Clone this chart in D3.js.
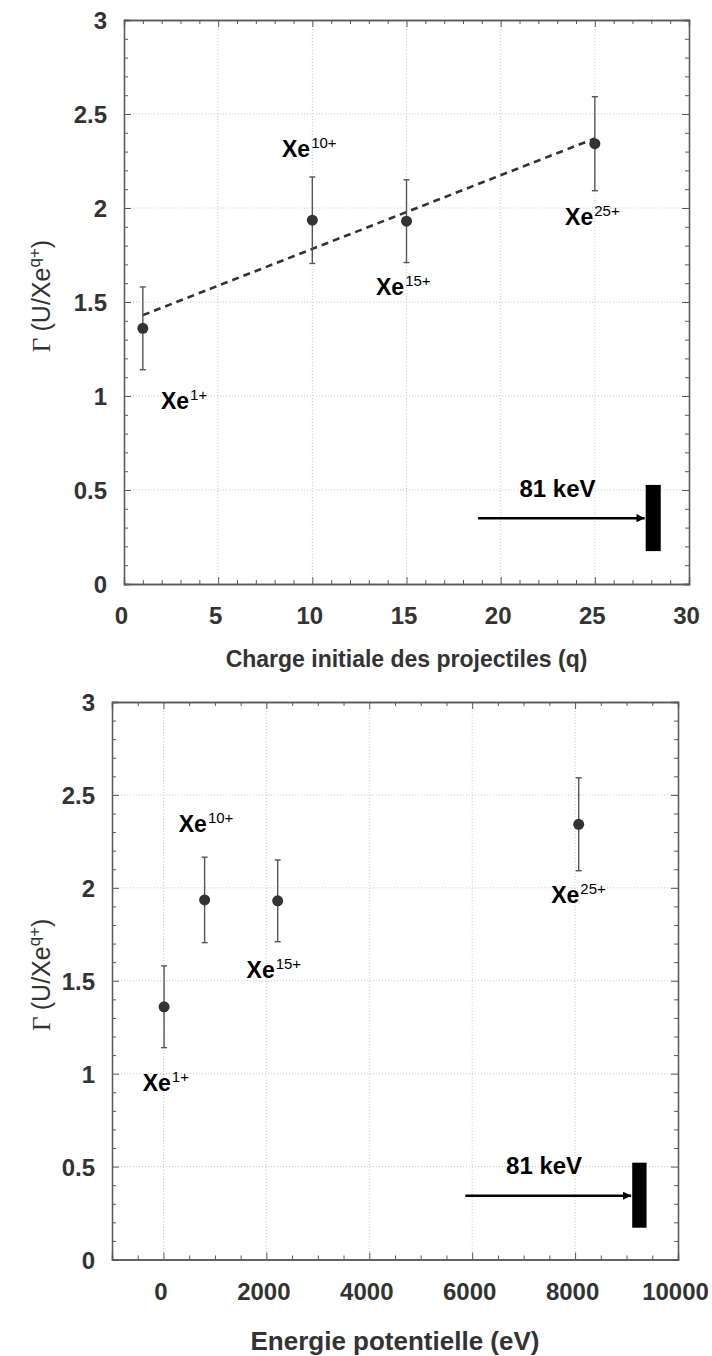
<!DOCTYPE html>
<html>
<head>
<meta charset="utf-8">
<script src="https://cdn.jsdelivr.net/npm/d3@7"></script>
<style>
  html, body { margin: 0; padding: 0; background: #fff; }
  svg { display: block; }
</style>
</head>
<body>
<svg id="chart" width="712" height="1356"></svg>
<script>
// ---------- data ----------
const ionCharges = [1, 10, 15, 25];
const ionLabels = ["1+", "10+", "15+", "25+"];
const potentialEnergy = [12, 800, 2220, 8070];      // eV
const gamma = [1.36, 1.935, 1.93, 2.342];           // U / Xe^q+
const gammaErr = [0.22, 0.23, 0.22, 0.25];
const fitCharge = [1, 25];
const fitGamma = [1.43, 2.37];
const yTicks = [0, 0.5, 1, 1.5, 2, 2.5, 3];
const chargeTicks = [0, 5, 10, 15, 20, 25, 30];
const energyTicks = [0, 2000, 4000, 6000, 8000, 10000];
const beamLabel = "81 keV";

// ---------- panels ----------
const panels = [
  {
    left: 124, top: 20, right: 689, bottom: 584,
    xDomain: [0, 30], xTicks: chargeTicks, xMinorStep: 1,
    xValues: ionCharges, fit: true,
    xTitle: "Charge initiale des projectiles (q)", xTitleY: 667, xTitleSize: 23,
    labelPos: [[1.96, 0.93], [8.39, 2.27], [13.38, 1.537], [23.42, 1.91]],
    beam: { text: [21.0, 0.463], x0: 18.8, x1: 27.7, y: 0.35, bar: [27.7, 28.5, 0.175, 0.527] }
  },
  {
    left: 112, top: 702, right: 678, bottom: 1259.5,
    xDomain: [-1000, 10000], xTicks: energyTicks, xMinorStep: 500,
    xValues: potentialEnergy, fit: false,
    xTitle: "Energie potentielle (eV)", xTitleY: 1350, xTitleSize: 26,
    labelPos: [[-403, 0.906], [298, 2.30], [1615, 1.514], [7535, 1.919]],
    beam: { text: [6658, 0.46], x0: 5868, x1: 9110, y: 0.343, bar: [9110, 9389, 0.171, 0.521] }
  }
];

const svg = d3.select("#chart");
const defs = svg.append("defs");
defs.append("marker").attr("id", "arrowHead")
  .attr("viewBox", "0 0 10 10").attr("refX", 10).attr("refY", 5)
  .attr("markerWidth", 4).attr("markerHeight", 3.4).attr("orient", "auto")
  .attr("markerUnits", "strokeWidth")
  .append("path").attr("d", "M0,0 L10,5 L0,10 Z").attr("fill", "#000");

const axisColor = "#5a5a5a";
const textColor = "#333";
const sans = "'Liberation Sans', Arial, sans-serif";

panels.forEach(p => {
  const x = d3.scaleLinear().domain(p.xDomain).range([p.left, p.right]);
  const y = d3.scaleLinear().domain([0, 3]).range([p.bottom, p.top]);
  const g = svg.append("g");

  const inDomain = v => v >= p.xDomain[0] && v <= p.xDomain[1];
  const xMajor = p.xTicks.filter(inDomain);
  const xMinor = d3.range(p.xDomain[0], p.xDomain[1] + 1e-9, p.xMinorStep)
    .filter(v => !xMajor.some(m => Math.abs(m - v) < 1e-6));
  const yMinor = d3.range(0, 3.0001, 0.1)
    .filter(v => !yTicks.some(m => Math.abs(m - v) < 1e-6));

  // grid
  const grid = g.append("g").attr("stroke", "#c9c9c9").attr("stroke-width", 1)
    .attr("stroke-dasharray", "1,2");
  grid.selectAll(".gx").data(xMajor.filter(v => v > p.xDomain[0] && v < p.xDomain[1]))
    .join("line").attr("x1", d => x(d)).attr("x2", d => x(d))
    .attr("y1", p.top).attr("y2", p.bottom);
  grid.selectAll(".gy").data(yTicks.filter(v => v > 0 && v < 3))
    .join("line").attr("y1", d => y(d)).attr("y2", d => y(d))
    .attr("x1", p.left).attr("x2", p.right);

  // axes with inward ticks (all four sides)
  const mk = (axisFn, scale, vals, size, tx, ty) => {
    const a = axisFn(scale).tickValues(vals).tickSize(size).tickFormat("");
    const ag = g.append("g").attr("transform", `translate(${tx},${ty})`).call(a);
    ag.selectAll("line").attr("stroke", axisColor).attr("stroke-width", 1);
    ag.select(".domain").attr("stroke", axisColor).attr("stroke-width", 1.3);
    return ag;
  };
  mk(d3.axisBottom, x, xMajor, -7, 0, p.bottom);
  mk(d3.axisBottom, x, xMinor, -4, 0, p.bottom);
  mk(d3.axisTop, x, xMajor, -7, 0, p.top);
  mk(d3.axisTop, x, xMinor, -4, 0, p.top);
  mk(d3.axisLeft, y, yTicks, -7, p.left, 0);
  mk(d3.axisLeft, y, yMinor, -4, p.left, 0);
  mk(d3.axisRight, y, yTicks, -7, p.right, 0);
  mk(d3.axisRight, y, yMinor, -4, p.right, 0);

  // tick labels
  const xl = d3.axisBottom(x).tickValues(xMajor).tickSize(0).tickPadding(0).tickFormat(d3.format("d"));
  const xg = g.append("g").attr("transform", `translate(-3,${p.bottom})`).call(xl);
  xg.select(".domain").remove();
  xg.selectAll("text").attr("y", 40).attr("dy", null)
    .attr("font-family", sans)
    .attr("font-weight", "bold").attr("font-size", 24).attr("fill", textColor);

  const yl = d3.axisLeft(y).tickValues(yTicks).tickSize(0).tickPadding(0).tickFormat(d => String(d));
  const yg = g.append("g").attr("transform", `translate(${p.left - 17},0)`).call(yl);
  yg.select(".domain").remove();
  yg.selectAll("text").attr("x", 0).attr("dy", "0.36em")
    .attr("font-family", sans)
    .attr("font-weight", "bold").attr("font-size", 24).attr("fill", textColor);

  // axis titles
  g.append("text").attr("x", (p.left + p.right) / 2).attr("y", p.xTitleY)
    .attr("text-anchor", "middle")
    .attr("font-family", sans)
    .attr("font-weight", "bold").attr("font-size", p.xTitleSize).attr("fill", textColor)
    .text(p.xTitle);

  const yt = g.append("text")
    .attr("transform", `translate(50,${(p.top + p.bottom) / 2 - 6}) rotate(-90)`)
    .attr("text-anchor", "middle")
    .attr("font-family", sans)
    .attr("font-size", 25).attr("fill", textColor);
  yt.append("tspan").attr("font-family", "'Liberation Serif', serif").text("Γ ");
  yt.append("tspan").text("(U/Xe");
  yt.append("tspan").attr("font-size", 17).attr("dy", -10).text("q+");
  yt.append("tspan").attr("dy", 10).text(")");

  // fit line
  if (p.fit) {
    const line = d3.line().x(d => x(d[0])).y(d => y(d[1]));
    g.append("path").datum(fitCharge.map((c, i) => [c, fitGamma[i]]))
      .attr("d", line).attr("fill", "none").attr("stroke", "#333")
      .attr("stroke-width", 2.6).attr("stroke-dasharray", "7,5");
  }

  // error bars + points
  const pts = p.xValues.map((v, i) => ({ x: v, y: gamma[i], e: gammaErr[i] }));
  const eb = g.append("g").attr("stroke", "#555").attr("stroke-width", 1.4);
  pts.forEach(d => {
    eb.append("line").attr("x1", x(d.x)).attr("x2", x(d.x))
      .attr("y1", y(d.y - d.e)).attr("y2", y(d.y + d.e));
    [d.y - d.e, d.y + d.e].forEach(v => {
      eb.append("line").attr("x1", x(d.x) - 3).attr("x2", x(d.x) + 3)
        .attr("y1", y(v)).attr("y2", y(v));
    });
  });
  g.selectAll(".pt").data(pts).join("circle")
    .attr("cx", d => x(d.x)).attr("cy", d => y(d.y)).attr("r", 5.5)
    .attr("fill", "#333");

  // ion labels
  p.labelPos.forEach((pos, i) => {
    const t = g.append("text").attr("x", x(pos[0])).attr("y", y(pos[1]))
      .attr("font-family", sans)
      .attr("font-weight", "bold").attr("font-size", 23).attr("fill", "#000");
    t.append("tspan").text("Xe");
    t.append("tspan").attr("font-size", 15).attr("font-weight", "normal")
      .attr("dy", -9).attr("dx", 1).text(ionLabels[i]);
  });

  // beam energy marker
  const b = p.beam;
  g.append("text").attr("x", x(b.text[0])).attr("y", y(b.text[1]))
    .attr("font-family", sans)
    .attr("font-weight", "bold").attr("font-size", 24).attr("fill", "#000")
    .text(beamLabel);
  g.append("line").attr("x1", x(b.x0)).attr("x2", x(b.x1) - 1)
    .attr("y1", y(b.y)).attr("y2", y(b.y))
    .attr("stroke", "#000").attr("stroke-width", 2.4)
    .attr("marker-end", "url(#arrowHead)");
  g.append("rect").attr("x", x(b.bar[0])).attr("width", x(b.bar[1]) - x(b.bar[0]))
    .attr("y", y(b.bar[3])).attr("height", y(b.bar[2]) - y(b.bar[3]))
    .attr("fill", "#000");
});
</script>
</body>
</html>
